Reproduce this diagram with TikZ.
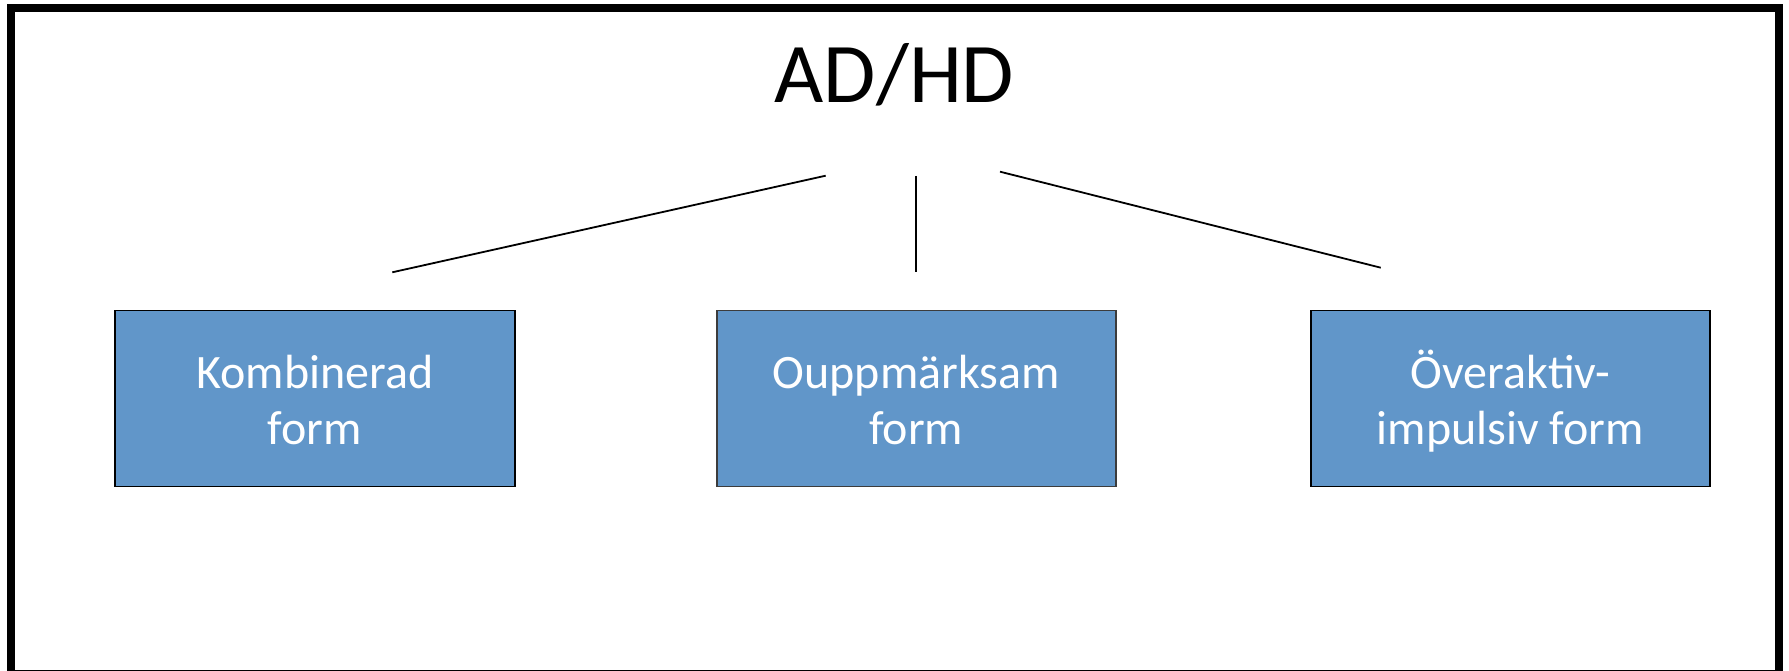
\documentclass[tikz,border=0pt]{standalone}
\usepackage{fontspec}
\setmainfont{Carlito}
\definecolor{boxblue}{RGB}{97,150,201}
\definecolor{boxedge}{RGB}{60,60,60}
\begin{document}
\begin{tikzpicture}[x=1pt,y=1pt,
  formbox/.style={draw=black, line width=1.6pt, fill=boxblue, minimum width=400pt, minimum height=176pt, inner sep=0pt, outer sep=0pt},
  formtext/.style={text=white, inner sep=0pt, anchor=base, font=\fontsize{48}{56}\selectfont},
  conn/.style={draw=black, line width=1.8pt},
  frame/.style={draw=black, line width=8pt}]
\useasboundingbox (0,0) rectangle (1789,671);
\draw[frame] (11,-3) rectangle (1779,663);
\node[inner sep=0pt, anchor=base, font=\fontsize{85}{100}\selectfont] (title) at (894.5,568) {AD/HD};
\node[formbox] (b1) at (315,272.3) {};
\node[formbox, draw=boxedge, minimum width=399pt] (b2) at (916.2,272.3) {};
\node[formbox, minimum width=399pt] (b3) at (1510.5,272.3) {};
\node[formtext] (t1) at (315,282) {\begin{tabular}[t]{@{}c@{}}Kombinerad\\form\end{tabular}};
\node[formtext] (t2) at (916.2,282) {\begin{tabular}[t]{@{}c@{}}Ouppmärksam\\form\end{tabular}};
\node[formtext] (t3) at (1510.5,282) {\begin{tabular}[t]{@{}c@{}}Överaktiv-\\impulsiv form\end{tabular}};
\coordinate (l1s) at (825.7,495.3);
\coordinate (l1e) at (392.3,398.7);
\coordinate (l2s) at (916.3,495);
\coordinate (l2e) at (916.3,398.7);
\coordinate (l3s) at (1000,499.3);
\coordinate (l3e) at (1380.7,403.3);
\draw[conn] (l1s) -- (l1e);
\draw[conn] (l2s) -- (l2e);
\draw[conn] (l3s) -- (l3e);
\end{tikzpicture}
\end{document}
